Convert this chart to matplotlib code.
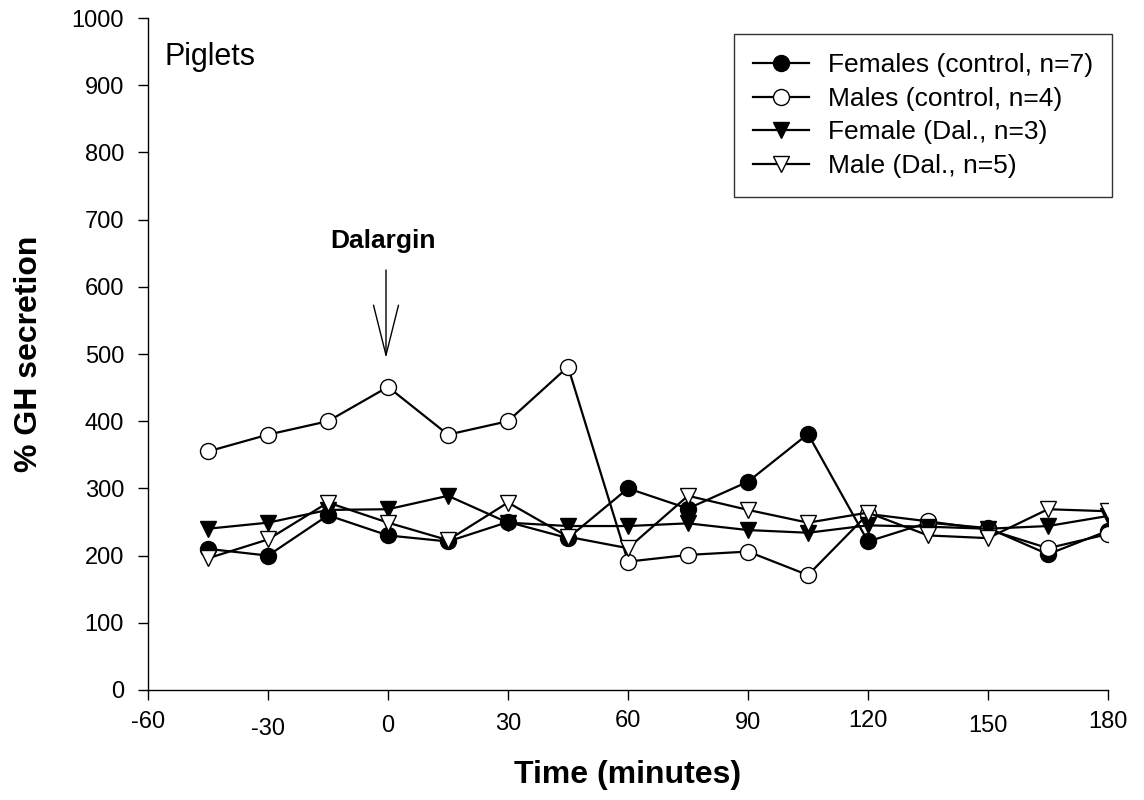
import matplotlib
matplotlib.use("Agg")
import matplotlib.pyplot as plt
import matplotlib.transforms as mtransforms

plt.rcParams['font.family'] = ['Liberation Sans', 'DejaVu Sans']
plt.rcParams['axes.unicode_minus'] = False

# Sampling times (minutes relative to Dalargin injection)
time_min = [-45, -30, -15, 0, 15, 30, 45, 60, 75, 90, 105, 120, 135, 150, 165, 180]

females_control = [210, 200, 260, 230, 221, 250, 226, 300, 270, 310, 381, 221, 249, 241, 202, 237]
males_control   = [355, 380, 400, 451, 380, 400, 481, 191, 201, 206, 171, 262, 251, 239, 211, 232]
female_dal      = [240, 249, 268, 269, 289, 249, 244, 244, 248, 238, 234, 245, 243, 240, 244, 259]
male_dal        = [196, 224, 279, 249, 223, 279, 228, 211, 289, 268, 249, 264, 230, 226, 269, 266]

series_labels = ["Females (control, n=7)", "Males (control, n=4)",
                 "Female (Dal., n=3)", "Male (Dal., n=5)"]

x_ticks = [-60, -30, 0, 30, 60, 90, 120, 150, 180]
y_ticks = [0, 100, 200, 300, 400, 500, 600, 700, 800, 900, 1000]

fig = plt.figure(figsize=(11.44, 8.0), dpi=100)
ax = fig.add_axes([148 / 1144, 1 - 690 / 800, 960 / 1144, 672 / 800])

lw = 1.6
ms_c = 11.5
ms_t = 12
ax.plot(time_min, females_control, '-o', color='black', lw=lw, ms=ms_c,
        mfc='black', mec='black', mew=1.0, label=series_labels[0])
ax.plot(time_min, males_control, '-o', color='black', lw=lw, ms=ms_c,
        mfc='white', mec='black', mew=1.0, label=series_labels[1])
ax.plot(time_min, female_dal, '-v', color='black', lw=lw, ms=ms_t,
        mfc='black', mec='black', mew=1.0, label=series_labels[2])
ax.plot(time_min, male_dal, '-v', color='black', lw=lw, ms=ms_t,
        mfc='white', mec='black', mew=1.0, label=series_labels[3])

ax.set_xlim(-60, 180)
ax.set_ylim(0, 1000)
ax.set_xticks(x_ticks)
ax.set_yticks(y_ticks)
ax.tick_params(axis='both', direction='out', length=7.2, width=1.0,
               labelsize=17, colors='black')
ax.tick_params(axis='x', pad=8)
ax.tick_params(axis='y', pad=10)
for side in ('top', 'right'):
    ax.spines[side].set_visible(False)
for side in ('left', 'bottom'):
    ax.spines[side].set_linewidth(1.0)

# staggered x tick labels
stagger_px = [0, 7, 4, 2, -1.5, 0.5, -1.5, 3.5, 0]
for lab, dy in zip(ax.get_xticklabels(), stagger_px):
    off = mtransforms.ScaledTranslation(0, -dy / 100, fig.dpi_scale_trans)
    lab.set_transform(lab.get_transform() + off)

ax.set_xlabel("Time (minutes)", fontsize=23, fontweight='bold', labelpad=14)
ax.set_ylabel("% GH secretion", fontsize=23, fontweight='bold', labelpad=20)

ax.text(0.017, 0.965, "Piglets", transform=ax.transAxes, fontsize=22,
        ha='left', va='top')

ax.annotate("", xy=(-0.5, 494), xytext=(-0.5, 625),
            arrowprops=dict(arrowstyle='->,head_length=3.6,head_width=0.9',
                            mutation_scale=10, lw=1.0, color='black',
                            shrinkA=0, shrinkB=0))
ax.text(-1.2, 668, "Dalargin", fontsize=19, fontweight='bold',
        ha='center', va='center')

leg = ax.legend(loc='upper right', bbox_to_anchor=(1.004, 0.9755),
                fontsize=19, frameon=True, fancybox=False,
                edgecolor='black', handlelength=2.1, handletextpad=0.72,
                labelspacing=0.36, borderpad=0.72, borderaxespad=0)
leg.get_frame().set_linewidth(1.0)

fig.savefig("out.png", dpi=100, facecolor='white')
